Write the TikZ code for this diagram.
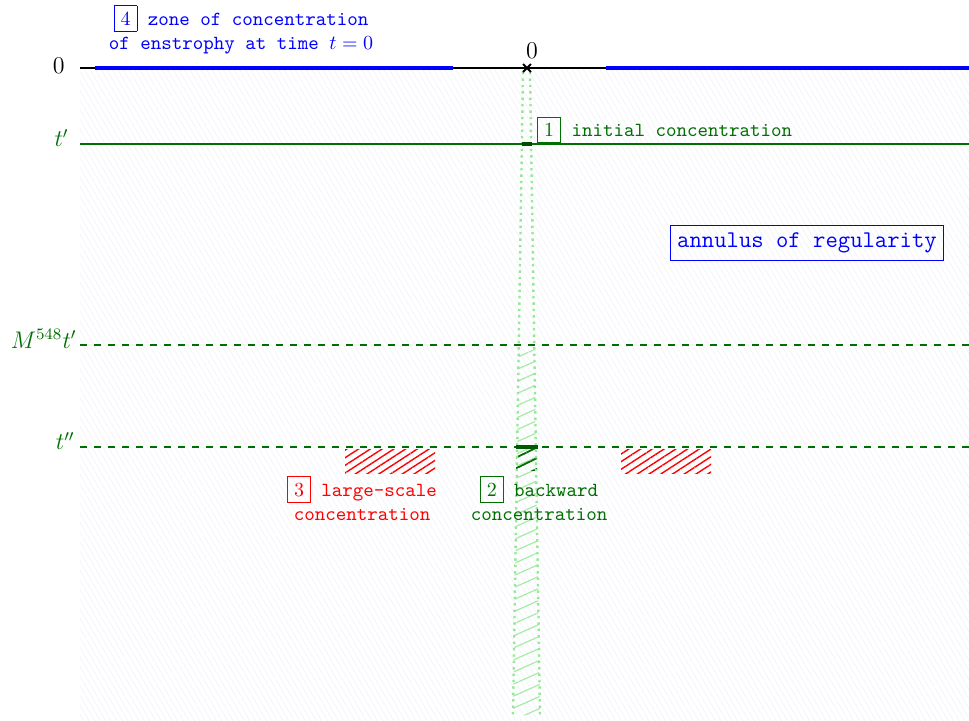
\documentclass[tikz,border=0pt]{standalone}
\usetikzlibrary{patterns.meta}
\definecolor{dgreen}{RGB}{0,110,0}
\definecolor{lgreen}{RGB}{150,232,150}
\definecolor{bghatch}{RGB}{242,244,250}
\begin{document}
\begin{tikzpicture}[x=0.5pt,y=-0.5pt,
  tlab/.style={anchor=east, inner sep=0pt, font=\large},
  dashline/.style={line width=1pt, dash pattern=on 3.5pt off 3.5pt, dgreen},
  bluethick/.style={line width=2pt, blue},
  conedge/.style={lgreen, line width=1.2pt, dotted},
  lbl/.style={inner sep=0pt, font=\ttfamily, align=center}]
\useasboundingbox (0,0) rectangle (969,720);
% faint background hatching (annulus of regularity)
\fill[pattern={Lines[angle=-60,distance=2.4pt,line width=0.4pt]}, pattern color=bghatch] (80,69) rectangle (969,720);
% cone hatching
\fill[pattern={Lines[angle=24,distance=5.5pt,line width=0.6pt]}, pattern color=lgreen!85!white]
  (518.7,345) -- (534.3,345) -- (540,715) -- (513,715) -- cycle;
\fill[pattern={Lines[angle=26,distance=4.8pt,line width=0.9pt]}, pattern color=dgreen]
  (516,449) rectangle (537,470);
% red hatches
\fill[pattern={Lines[angle=33,distance=3.2pt,line width=0.7pt]}, pattern color=red]
  (345,449) rectangle (435,473);
\fill[pattern={Lines[angle=33,distance=3.2pt,line width=0.7pt]}, pattern color=red]
  (621,449) rectangle (711,473);
% cone edges
\coordinate (cTL) at (523,72);
\coordinate (cTR) at (530,72);
\coordinate (cBL) at (513,715);
\coordinate (cBR) at (540,715);
\draw[conedge] (cTL) -- (cBL);
\draw[conedge] (cTR) -- (cBR);
% time 0 line
\draw[line width=0.8pt] (80,68) -- (969,68);
\draw[bluethick] (95,68) -- (453,68);
\draw[bluethick] (606,68) -- (969,68);
\draw[line width=1pt] (523,64) -- (531,72) (523,72) -- (531,64);
\node[inner sep=0pt, font=\large] (zero) at (532,51) {$0$};
% t' line
\draw[dgreen, line width=1pt] (80,144) -- (969,144);
\draw[dgreen!70!black, line width=2pt] (522,144) -- (532,144);
% dashed lines
\draw[dashline] (80,345) -- (969,345);
\draw[dashline] (80,447) -- (969,447);
\draw[dgreen!80!black, line width=2pt] (516,447) -- (538,447);
% left labels
\node[tlab] (l0) at (65,66) {$0$};
\node[tlab, text=dgreen] (l1) at (69,138) {$t'$};
\node[tlab, text=dgreen] (l2) at (77,339) {$M^{548}t'$};
\node[tlab, text=dgreen] (l3) at (75,441) {$t''$};
% text labels
\node[lbl, text=blue, anchor=north] (n4) at (241,5) {\fbox{$4$} zone of concentration\\of enstrophy at time $t=0$};
\node[lbl, text=dgreen, anchor=south west] (n1) at (537,143.5) {\fbox{$1$} initial concentration};
\node[lbl, text=red, anchor=north] (n3) at (362,476) {\fbox{$3$} large-scale\\concentration};
\node[lbl, text=dgreen, anchor=north] (n2) at (539,476) {\fbox{$2$} backward\\concentration};
\node[draw=blue, text=blue, font=\large\ttfamily, inner sep=3.5pt, line width=0.6pt] (ann) at (807,243) {annulus of regularity};
\end{tikzpicture}
\end{document}
